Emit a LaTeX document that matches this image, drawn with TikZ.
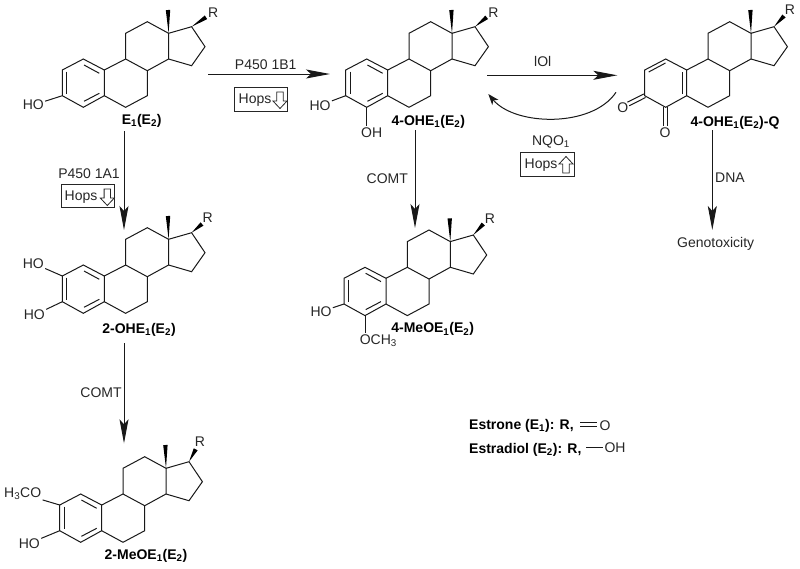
\documentclass[tikz,border=0pt]{standalone}
\usepackage{fontspec}
\setmainfont{Liberation Sans}
\usetikzlibrary{calc,arrows.meta}
\newcommand{\sub}[1]{\textsubscript{#1}}
\newcommand{\wedgebond}[2]{\fill[black] ($(#2)!2.2pt!90:(#1)$) -- (#1) -- ($(#2)!2.2pt!-90:(#1)$) -- cycle;}
\newcommand{\dblbond}[3]{\draw[bond] ($(#1)!#3!90:(#2)$) -- ($(#2)!#3!-90:(#1)$); \draw[bond] ($(#1)!#3!-90:(#2)$) -- ($(#2)!#3!90:(#1)$);}
\tikzset{
  bond/.style={line width=1pt,line join=miter,black!90},
  lbl/.style={font=\fontsize{14}{16}\selectfont,text=black!85,inner sep=1.2pt},
  name lbl/.style={font=\fontsize{14}{16}\selectfont\bfseries,text=black,inner sep=0pt},
  rxn/.style={line width=1pt,black!90,-{Stealth[length=24pt,width=9pt,inset=5pt]}},
  hopsbox/.style={draw=black!85,line width=0.9pt,minimum width=53.5pt,minimum height=23.7pt,inner sep=0pt},
  steroid/.pic={
    \coordinate (-a) at (-42,0); \coordinate (-b) at (-21,-11); \coordinate (-c) at (0,0);
    \coordinate (-d) at (0,25.7); \coordinate (-e) at (-21,37.3); \coordinate (-f) at (-42,25.7);
    \coordinate (-g) at (21.3,-11); \coordinate (-h) at (43,0.7); \coordinate (-i) at (43,25.7);
    \coordinate (-j) at (21.3,37.3); \coordinate (-k) at (21.3,-36.7); \coordinate (-l) at (43,-48.3);
    \coordinate (-m) at (64.3,-36.7); \coordinate (-n) at (64.3,-11); \coordinate (-o) at (87.3,-43.3);
    \coordinate (-p) at (100.7,-23.3); \coordinate (-q) at (87.3,-4.3); \coordinate (-t) at (63.7,-60);
    \draw[bond] (-a)--(-b)--(-c)--(-d)--(-e)--(-f)--cycle;
    \draw[bond] (-c)--(-g)--(-h)--(-i)--(-j)--(-d);
    \draw[bond] (-g)--(-k)--(-l)--(-m)--(-n)--(-h);
    \draw[bond] (-m)--(-o)--(-p)--(-q)--(-n);
    \wedgebond{-m}{-t}
  },
  arom/.pic={
    \draw[bond] (-37.7,1.7)--(-37.7,23.7);
    \draw[bond] (-20.3,-5)--(-5,3.3);
    \draw[bond] (-20.3,31.3)--(-5,23.3);
  },
  hopsdown/.pic={
    \draw[line width=0.8pt,black!85,fill=white] (-3.2,-8)--(3.2,-8)--(3.2,1)--(7,1)--(0,8.5)--(-7,1)--(-3.2,1)--cycle;
  },
  hopsup/.pic={
    \draw[line width=0.8pt,black!85,fill=white] (-3.2,8)--(3.2,8)--(3.2,-1)--(7,-1)--(0,-8.5)--(-7,-1)--(-3.2,-1)--cycle;
  }
}
\begin{document}
\begin{tikzpicture}[x=1pt,y=-1pt]
\useasboundingbox (0,0) rectangle (800,568);
% molecules
\pic (m1) at (104.3,70) {steroid};   \pic at (104.3,70) {arom};
\pic (m2) at (387.7,70) {steroid};   \pic at (387.7,70) {arom};
\pic (m3) at (686.7,70) {steroid};
\pic (m4) at (104.3,276) {steroid};  \pic at (104.3,276) {arom};
\pic (m5) at (101.7,505) {steroid};  \pic at (101.7,505) {arom};
\pic (m6) at (386,278.3) {steroid};  \pic at (386,278.3) {arom};
% quinone inner bonds
\draw[bond] (648.7,72)--(665.5,63);
\draw[bond] (682.3,72)--(682.3,94);
% R groups
\coordinate (r1t) at (206,17.3);   \node[lbl] (r1) at (213.3,12.7) {R}; \wedgebond{m1-o}{r1t}
\coordinate (r2t) at (486.7,17.3); \node[lbl] (r2) at (493.3,12.7) {R}; \wedgebond{m2-o}{r2t}
\coordinate (r3t) at (784,16);     \node[lbl] (r3) at (790,10) {R};     \wedgebond{m3-o}{r3t}
\coordinate (r4t) at (202,224);    \node[lbl] (r4) at (207.7,217.3) {R};\wedgebond{m4-o}{r4t}
\coordinate (r5t) at (195.7,449.3);\node[lbl] (r5) at (200,441.7) {R};  \wedgebond{m5-o}{r5t}
\coordinate (r6t) at (483.3,224);  \node[lbl] (r6) at (490,218.3) {R};  \wedgebond{m6-o}{r6t}
% substituents
\node[lbl] (ho1) at (33.3,105) {HO};    \draw[bond] (m1-f)--(ho1);
\node[lbl] (ho2) at (320,105.3) {HO};   \draw[bond] (m2-f)--(ho2);
\node[lbl] (oh2) at (371.7,132.3) {OH}; \draw[bond] (m2-e)--(m2-e|-oh2.north);
\node[lbl] (o3a) at (622.7,107.7) {O};  \coordinate (o3ae) at (628.3,104);
\dblbond{m3-f}{o3ae}{2pt}
\node[lbl] (o3b) at (665,132.3) {O};    \coordinate (o3be) at (m3-e|-o3b.north);
\dblbond{m3-e}{o3be}{2pt}
\node[lbl] (ho4a) at (33.3,263.3) {HO}; \draw[bond] (m4-a)--(ho4a);
\node[lbl] (ho4b) at (34.3,315) {HO};   \draw[bond] (m4-f)--(ho4b);
\node[lbl] (meo5) at (22.7,494) {H\sub{3}CO}; \draw[bond] (m5-a)--(meo5);
\node[lbl] (ho5) at (29.3,543.3) {HO};  \draw[bond] (m5-f)--(ho5);
\node[lbl] (ho6) at (321,311.7) {HO};   \draw[bond] (m6-f)--(ho6);
\node[lbl] (me6) at (378.3,340.7) {OCH\sub{3}}; \draw[bond] (m6-e)--(m6-e|-me6.north);
% compound names
\node[name lbl] (n1) at (141.7,120.7) {E\sub{1}(E\sub{2})};
\node[name lbl] (n2) at (428.3,121.7) {4-OHE\sub{1}(E\sub{2})};
\node[name lbl] (n3) at (735,123) {4-OHE\sub{1}(E\sub{2})-Q};
\node[name lbl] (n4) at (139,330) {2-OHE\sub{1}(E\sub{2})};
\node[name lbl] (n5) at (146,556) {2-MeOE\sub{1}(E\sub{2})};
\node[name lbl] (n6) at (432.7,329.3) {4-MeOE\sub{1}(E\sub{2})};
% arrows
\coordinate (a1s) at (208,74);     \coordinate (a1e) at (330,74);
\draw[rxn] (a1s)--(a1e);
\coordinate (a2s) at (487.3,75.3); \coordinate (a2e) at (617.3,75.3);
\draw[rxn] (a2s)--(a2e);
\coordinate (a3s) at (616,92.3);   \coordinate (a3e) at (488.3,94);
\draw[line width=1pt,black!90,-{Stealth[length=11pt,width=8pt,inset=3pt]}] (a3s) .. controls (592,128) and (515,126) .. (a3e);
\coordinate (a4s) at (124,131);    \coordinate (a4e) at (124,230);
\draw[rxn] (a4s)--(a4e);
\coordinate (a5s) at (124,343);    \coordinate (a5e) at (124,443.3);
\draw[rxn] (a5s)--(a5e);
\coordinate (a6s) at (415,130);    \coordinate (a6e) at (415,228);
\draw[rxn] (a6s)--(a6e);
\coordinate (a7s) at (712.3,130);  \coordinate (a7e) at (712.3,230);
\draw[rxn] (a7s)--(a7e);
% arrow labels
\node[lbl] (l1) at (265.7,64.3) {P450 1B1};
\node[lbl] (l2) at (542.7,61.7) {lOl};
\node[lbl] (l3) at (551,141.7) {NQO\sub{1}};
\node[lbl] (l4) at (89,174) {P450 1A1};
\node[lbl] (l5) at (101,392.7) {COMT};
\node[lbl] (l6) at (387.3,178.3) {COMT};
\node[lbl] (l7) at (730,177.7) {DNA};
\node[lbl] (l8) at (715.7,244.3) {Genotoxicity};
% Hops boxes
\node[hopsbox] (b1) at (260.8,99.2) {};
\node[lbl] (b1t) at (255,100) {Hops};  \pic at (280,100) {hopsdown};
\node[hopsbox] (b2) at (87.7,195.8) {};
\node[lbl] (b2t) at (81,196.7) {Hops}; \pic at (107.3,197) {hopsdown};
\node[hopsbox] (b3) at (547.5,164.7) {};
\node[lbl] (b3t) at (541,165) {Hops};  \pic at (566,165) {hopsup};
% legend
\node[name lbl,anchor=west] (e1) at (469,425.5) {Estrone (E\sub{1}): R,};
\node[name lbl,anchor=west] (e2) at (469,450) {Estradiol (E\sub{2}): R,};
\node[lbl] (eo) at (605,425.7) {O};
\node[lbl] (eoh) at (615,447.7) {OH};
\coordinate (el1) at (580,424.4); \coordinate (el1e) at (597,424.4);
\dblbond{el1}{el1e}{1.7pt}
\coordinate (el2) at (586,447.7); \draw[bond] (el2)--(eoh.west);
\end{tikzpicture}
\end{document}
